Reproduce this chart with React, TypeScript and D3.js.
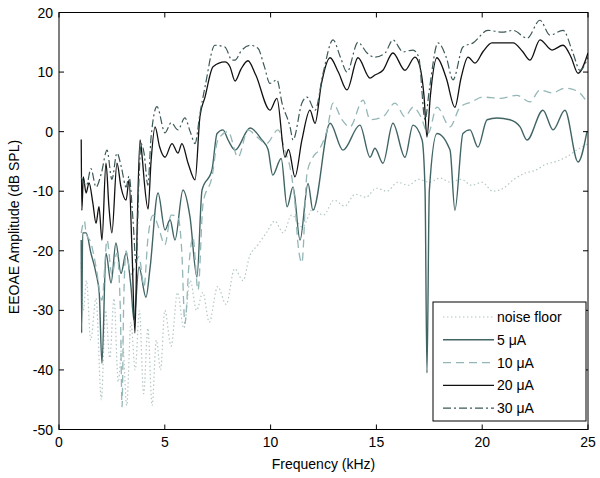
import React from "react";
import * as d3 from "d3";

type Pt = [number, number];

const xTicks = [0, 5, 10, 15, 20, 25];
const yTicks = [-50, -40, -30, -20, -10, 0, 10, 20];

const noiseFloor: Pt[] = [[1.05,-22],[1.15,-30],[1.3,-25],[1.5,-35],[1.75,-28],[2.0,-45],[2.2,-30],[2.4,-38],[2.6,-28],[2.8,-42],[3.0,-35],[3.2,-46],[3.4,-32],[3.6,-40],[3.8,-30],[4.0,-44],[4.2,-33],[4.4,-46],[4.6,-35],[4.8,-40],[5.0,-30],[5.3,-36],[5.6,-27],[5.9,-33],[6.2,-25],[6.5,-30],[6.8,-27],[7.1,-32],[7.5,-26],[7.9,-29],[8.3,-23],[8.7,-25],[9.0,-21],[9.4,-19],[9.8,-17],[10.2,-15],[10.6,-17],[11.0,-14],[11.5,-16],[12.0,-13],[12.5,-14],[13.0,-11.5],[13.5,-12.5],[14.0,-10.5],[14.5,-11],[15.0,-9.5],[15.5,-10],[16.0,-8.5],[16.5,-9],[17.0,-8],[17.5,-8.5],[18.0,-7.8],[18.5,-8.5],[19.0,-8],[19.5,-9],[20.0,-8.5],[20.5,-10],[21.0,-9.5],[21.5,-8],[22.0,-7],[22.5,-6.5],[23.0,-5.5],[23.5,-5],[24.0,-4.2],[24.5,-3],[25.0,-2]];

const amp5: Pt[] = [[1.05,-18.2],[1.07,-33.8],[1.12,-17],[1.28,-17],[1.51,-20.4],[1.75,-23.8],[1.9,-27],[2.03,-38.9],[2.22,-20.4],[2.46,-25.4],[2.69,-18.7],[2.93,-23.8],[3.17,-20.4],[3.4,-26],[3.54,-31.6],[3.78,-22.7],[4.11,-27.8],[4.3,-23],[4.68,-10.3],[5.01,-16.5],[5.25,-14.8],[5.48,-18.2],[5.86,-9.8],[6.19,-14.3],[6.52,-24.4],[6.76,-9.8],[7.23,-6.4],[7.47,-0.3],[7.75,0.3],[7.99,-1.4],[8.32,-3.1],[9.03,0.6],[9.59,-1.4],[9.88,-3],[10.1,-7.3],[10.5,-4.5],[10.78,-12.6],[11.06,-9.3],[11.39,-18.2],[11.77,-8.7],[12.0,-13.2],[12.81,1.4],[13.42,-3.1],[14.22,1.1],[14.7,-4.3],[14.93,-2.8],[15.31,-5.3],[15.78,1.4],[16.35,-4.3],[16.73,1.1],[17.16,-1.4],[17.3,-10],[17.39,-40.5],[17.5,-10],[17.86,-0.3],[18.48,-3.1],[18.71,-13.2],[19.09,-0.3],[19.42,0.3],[19.8,-2.6],[20.23,2],[20.7,2.3],[21.31,2],[21.79,0.8],[22.12,-1.4],[22.87,3.6],[23.35,0.3],[23.91,3.6],[24.53,-5.1],[24.95,0]];

const amp10: Pt[] = [[1.05,-17],[1.2,-15],[1.28,-17],[1.51,-18.7],[1.75,-22.7],[2.03,-28.3],[2.27,-18.2],[2.5,-24],[2.74,-20.4],[2.9,-30],[2.98,-46.2],[3.05,-30],[3.17,-20],[3.4,-24],[3.78,-21],[4.02,-26],[4.2,-18],[4.45,-14],[4.7,-16],[5.0,-19],[5.3,-14],[5.62,-14.3],[5.8,-20],[5.95,-32.2],[6.15,-22],[6.33,-17.7],[6.57,-26.6],[6.81,-12],[7.23,-7.6],[7.51,-1.4],[7.99,0],[8.46,-4.3],[8.93,0.3],[9.36,-0.9],[9.8,-2],[10.35,0.3],[10.7,-3.5],[10.92,-6],[11.15,-12],[11.29,-18.7],[11.48,-22],[11.72,-7],[12.0,-4.3],[12.3,-3],[12.67,0.3],[12.95,4.8],[13.37,2],[13.75,0.8],[14.37,5.3],[14.7,2],[15.31,2.5],[15.88,4.8],[16.35,2.5],[16.73,4.1],[17.1,2.5],[17.44,-0.3],[17.86,4.1],[18.48,0.8],[18.95,4.1],[19.5,5],[20.04,5.8],[20.84,5.6],[21.64,6.1],[22.26,5],[22.73,7],[23.3,6.5],[23.91,7.3],[24.5,6.8],[24.95,5]];

const amp20: Pt[] = [[1.05,-1.3],[1.08,-13.2],[1.15,-7.6],[1.28,-10.3],[1.42,-8.6],[1.6,-12],[1.75,-15.4],[1.89,-12.6],[2.03,-18.2],[2.22,-5.3],[2.36,-12.6],[2.5,-17],[2.74,-5.3],[2.93,-9.3],[3.17,-11.5],[3.31,-8.1],[3.45,-19.9],[3.59,-33.8],[3.7,-15],[3.83,-1.4],[3.95,-5],[4.02,-8],[4.21,-13],[4.35,-5],[4.54,0.8],[4.75,-2.5],[5.01,-4.3],[5.34,-2],[5.62,-3.6],[5.81,-2],[6.1,-5.3],[6.43,-8.1],[6.66,2.5],[6.9,5.8],[7.28,10.9],[7.84,11.7],[8.08,10.9],[8.32,8.5],[8.6,10.5],[8.93,11.9],[9.3,9.5],[9.97,3.6],[10.3,5.6],[10.68,-4.3],[10.85,-3],[11.15,-7.6],[11.48,-1.4],[11.86,3.6],[12.1,1.4],[12.4,8],[12.81,12.4],[13.2,10],[13.61,7],[14.13,12.4],[14.7,9],[14.93,9.5],[15.31,10.3],[15.78,13.2],[16.35,10.3],[16.82,12.5],[17.05,11],[17.25,6],[17.39,-0.9],[17.55,6],[17.86,12.4],[18.3,9],[18.71,4.1],[19.0,9],[19.33,12.5],[19.66,11.5],[20.05,13.5],[20.46,14.9],[21.08,14.9],[21.46,14.9],[21.9,13.5],[22.26,12],[22.73,15.4],[23.3,13.7],[23.82,14.5],[24.2,12.5],[24.53,9.8],[25.0,13.2]];

const amp30: Pt[] = [[1.05,-7.6],[1.3,-9],[1.51,-6.2],[1.75,-9.3],[2.0,-7],[2.27,-3.1],[2.5,-8],[2.74,-3.6],[2.95,-6],[3.17,-9.3],[3.31,-7.5],[3.5,-15],[3.64,-22],[3.78,-8],[3.88,-2],[4.02,-3.6],[4.2,-9],[4.35,-1],[4.63,4.2],[5.01,-0.2],[5.3,1.5],[5.62,0.3],[5.95,2.3],[6.2,0],[6.43,-2],[6.66,3],[6.9,7.5],[7.37,14.5],[7.84,14.2],[8.18,12],[8.32,12],[8.6,13.5],[9.03,14.5],[9.4,14],[9.7,11],[9.97,8.1],[10.3,8.7],[10.54,4.8],[10.92,0.8],[11.06,-1.4],[11.48,4.8],[11.72,5.8],[12.1,3.6],[12.48,9.8],[12.95,15.4],[13.3,12.5],[13.61,10],[14.13,15],[14.56,13.2],[14.93,12.5],[15.41,13.2],[15.78,15.4],[16.26,13.4],[16.73,13.7],[17.0,12.5],[17.3,2],[17.5,7],[17.91,14.9],[18.3,12.5],[18.62,8.7],[19.09,14.2],[19.57,14.9],[20.27,17],[20.94,16.7],[21.46,17],[22.12,15.7],[22.73,18.7],[23.2,16.2],[23.82,17],[24.29,13.2],[24.62,10.3],[25.0,12.5]];

const legendLabels = ["noise floor", "5 μA", "10 μA", "20 μA", "30 μA"];

const W = 600, H = 478;
const L = 59, R = 588, T = 12.5, B = 429.5;
const FONT = "'Liberation Sans', Arial, sans-serif";

const seriesStyles = [
  { data: noiseFloor, color: "#b4c6c6", dash: "1.5,2.5", width: 1.2 },
  { data: amp5, color: "#416464", dash: "", width: 1.4 },
  { data: amp10, color: "#94b6b6", dash: "8,5", width: 1.3 },
  { data: amp20, color: "#111111", dash: "", width: 1.3 },
  { data: amp30, color: "#3c5858", dash: "8,3,2,3", width: 1.2 },
];

export default function App() {
  const x = d3.scaleLinear().domain([0, 25]).range([L, R]);
  const y = d3.scaleLinear().domain([-50, 20]).range([B, T]);
  const line = d3.line<Pt>().x(d => x(d[0])).y(d => y(d[1])).curve(d3.curveMonotoneX);

  const lgX = 433, lgY = 302, lgW = 153, lgH = 119;
  const rowH = 22.8;

  return (
    <svg width={W} height={H} style={{ position: "absolute", left: 0, top: 0, background: "#fff" }}>
      <rect x={0} y={0} width={W} height={H} fill="#fff" />
      <defs>
        <clipPath id="plotclip">
          <rect x={L} y={T} width={R - L} height={B - T} />
        </clipPath>
      </defs>
      <g clipPath="url(#plotclip)">
        {seriesStyles.map((s, i) => (
          <path key={i} d={line(s.data) || ""} fill="none" stroke={s.color}
            strokeWidth={s.width} strokeDasharray={s.dash || undefined} strokeLinejoin="round" />
        ))}
      </g>
      <rect x={L} y={T} width={R - L} height={B - T} fill="none" stroke="#000" strokeWidth={1} />
      {xTicks.map(t => (
        <g key={"x" + t}>
          <line x1={x(t)} x2={x(t)} y1={B} y2={B - 5} stroke="#000" />
          <line x1={x(t)} x2={x(t)} y1={T} y2={T + 5} stroke="#000" />
          <text x={x(t)} y={B + 17} textAnchor="middle" fontFamily={FONT} fontSize={14} fill="#000">{t}</text>
        </g>
      ))}
      {yTicks.map(t => (
        <g key={"y" + t}>
          <line x1={L} x2={L + 5} y1={y(t)} y2={y(t)} stroke="#000" />
          <line x1={R} x2={R - 5} y1={y(t)} y2={y(t)} stroke="#000" />
          <text x={L - 6} y={y(t) + 5} textAnchor="end" fontFamily={FONT} fontSize={14} fill="#000">{t}</text>
        </g>
      ))}
      <text x={(L + R) / 2} y={469} textAnchor="middle" fontFamily={FONT} fontSize={14} fill="#000">Frequency (kHz)</text>
      <text transform={`translate(19, 227) rotate(-90)`} textAnchor="middle" fontFamily={FONT} fontSize={14} fill="#000">EEOAE Amplitude (dB SPL)</text>
      <rect x={lgX} y={lgY} width={lgW} height={lgH} fill="#fff" stroke="#000" strokeWidth={1} />
      {legendLabels.map((lab, i) => {
        const cy = lgY + 15 + i * rowH;
        const s = seriesStyles[i];
        return (
          <g key={lab}>
            <line x1={lgX + 10} x2={lgX + 61} y1={cy} y2={cy} stroke={s.color} strokeWidth={s.width}
              strokeDasharray={s.dash || undefined} />
            <text x={lgX + 64} y={cy + 5} fontFamily={FONT} fontSize={14} fill="#000">{lab}</text>
          </g>
        );
      })}
    </svg>
  );
}
